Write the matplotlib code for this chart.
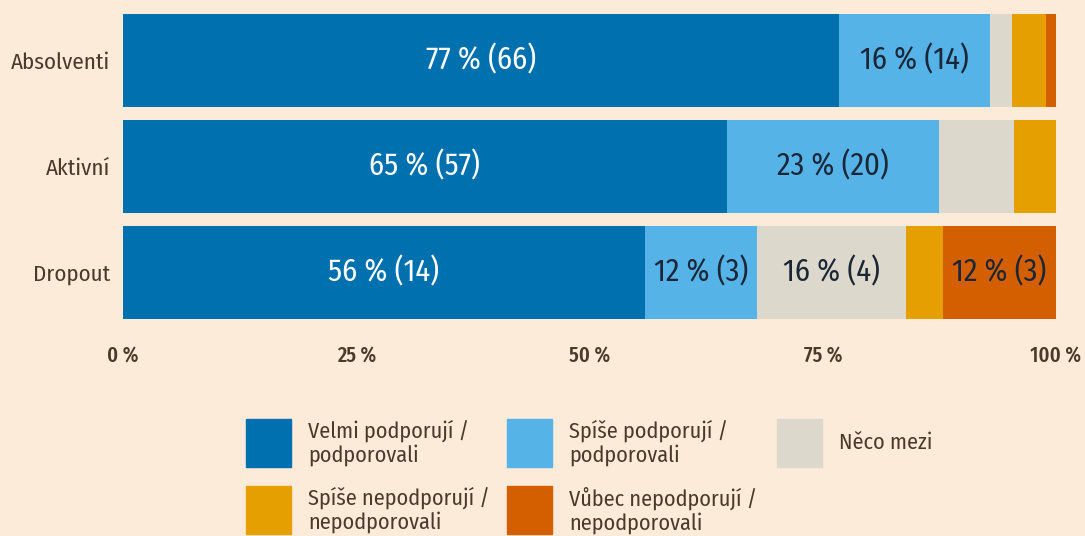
import matplotlib.pyplot as plt
from matplotlib.patches import Rectangle
import numpy as np

# data
groups = ["Absolventi", "Aktivní", "Dropout"]
series = ["Velmi podporují /\npodporovali", "Spíše podporují /\npodporovali", "Něco mezi",
          "Spíše nepodporují /\nnepodporovali", "Vůbec nepodporují /\nnepodporovali"]
colors = ["#0070AF", "#56B3E8", "#DCD8CB", "#E59F00", "#D35F00"]
text_colors = ["white", "#1B2636", "#1B2636", "#1B2636", "#1B2636"]

# shares in %, per group (Absolventi, Aktivní, Dropout)
velmi = [76.7, 64.7, 55.9]
spise = [16.2, 22.8, 12.1]
neco = [2.4, 8.0, 15.9]
spise_ne = [3.6, 4.5, 4.0]
vubec = [1.1, 0.0, 12.1]

# counts shown in labels (None = no label)
cnt_velmi = [66, 57, 14]
cnt_spise = [14, 20, 3]
cnt_neco = [None, None, 4]
cnt_spise_ne = [None, None, None]
cnt_vubec = [None, None, 3]

xticks = [0, 25, 50, 75, 100]

bg = "#FDEBDA"
txt_col = "#4A3A2A"
fam = ["Fira Sans Condensed", "DejaVu Sans"]
fam_narrow = ["Fira Sans Extra Condensed", "DejaVu Sans"]
plt.rcParams["font.family"] = fam

fig = plt.figure(figsize=(10.85, 5.36), dpi=100, facecolor=bg)
ax = fig.add_axes([123 / 1085, 1 - 319 / 536, 933 / 1085, 305 / 536])
ax.set_facecolor(bg)

vals = [velmi, spise, neco, spise_ne, vubec]
cnts = [cnt_velmi, cnt_spise, cnt_neco, cnt_spise_ne, cnt_vubec]
ypos = np.arange(len(groups))[::-1]
left = np.zeros(len(groups))
for i, (v, c) in enumerate(zip(vals, cnts)):
    v = np.array(v)
    ax.barh(ypos, v, left=left, height=0.88, color=colors[i], edgecolor="none")
    for j in range(len(groups)):
        if c[j] is not None:
            ax.text(left[j] + v[j] / 2, ypos[j], f"{round(v[j])} % ({c[j]})",
                    ha="center", va="center", fontsize=22, color=text_colors[i])
    left += v

ax.set_xlim(0, 100)
ax.set_ylim(-0.44, 2.44)
ax.set_yticks(ypos)
ax.set_yticklabels(groups, fontsize=16.5, color=txt_col)
ax.set_xticks(xticks)
ax.set_xticklabels([f"{t} %" for t in xticks], fontsize=16, color=txt_col,
                   family=fam_narrow, weight=500)
ax.tick_params(length=0, axis="x", pad=19)
ax.tick_params(length=0, axis="y", pad=9)
for s in ax.spines.values():
    s.set_visible(False)

# legend, laid out by hand
order = [(0, 246, 419), (1, 507, 419), (2, 777, 419), (3, 246, 486), (4, 507, 486)]
W, H = 1085, 536
for k, x0, y0 in order:
    fig.patches.append(Rectangle((x0 / W, 1 - (y0 + 48) / H), 45 / W, 48 / H,
                                 transform=fig.transFigure, color=colors[k]))
    fig.text((x0 + 62) / W, 1 - (y0 + 24) / H, series[k], ha="left", va="center",
             fontsize=16, color=txt_col, linespacing=1.12)

fig.savefig("out.png", dpi=100, facecolor=bg)
